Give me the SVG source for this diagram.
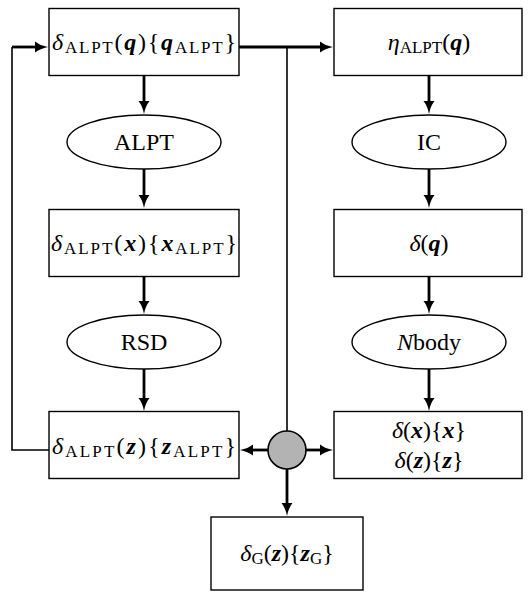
<svg xmlns="http://www.w3.org/2000/svg" width="528" height="592" viewBox="0 0 528 592">
  <style>
    .box { fill: #ffffff; stroke: #000000; stroke-width: 1.4; }
    .thin { fill: none; stroke: #000000; stroke-width: 1.6; }
    .arrow { fill: none; stroke: #000000; stroke-width: 2.8; marker-end: url(#head); }
    .lbl { font-size: 24px; fill: #000000; text-anchor: middle; }
    .it { font-style: italic; }
    .bi { font-style: italic; font-weight: bold; }
    .sub { font-size: 17px; }
  </style>
  <defs>
    <marker id="head" markerUnits="userSpaceOnUse" markerWidth="16" markerHeight="14" viewBox="0 -7 16 14" refX="1" refY="0" orient="auto">
      <path d="M0,-5.5 Q5,-1.5 13,0 Q5,1.5 0,5.5 Z" fill="#000000"/>
    </marker>
  </defs>

  <!-- connectors -->
  <g id="connectors">
    <!-- feedback loop from the redshift-space field back to the initial field -->
    <path class="thin" d="M49,450 H12 V47"/>
    <line class="arrow" x1="12" y1="47" x2="36" y2="47"/>
    <!-- initial field to eta -->
    <line class="arrow" x1="239" y1="47" x2="321" y2="47"/>
    <!-- junction line down to the comparison node -->
    <line class="thin" x1="287" y1="47" x2="287" y2="431"/>
    <!-- left column -->
    <line class="arrow" x1="144" y1="76" x2="144" y2="102"/>
    <line class="arrow" x1="144" y1="169" x2="144" y2="196"/>
    <line class="arrow" x1="144" y1="276" x2="144" y2="302"/>
    <line class="arrow" x1="144" y1="369" x2="144" y2="399"/>
    <!-- right column -->
    <line class="arrow" x1="429" y1="76" x2="429" y2="102"/>
    <line class="arrow" x1="429" y1="169" x2="429" y2="196"/>
    <line class="arrow" x1="429" y1="276" x2="429" y2="302"/>
    <line class="arrow" x1="429" y1="369" x2="429" y2="399"/>
    <!-- outputs of the comparison node -->
    <line class="arrow" x1="268" y1="450" x2="252" y2="450"/>
    <line class="arrow" x1="306" y1="450" x2="321" y2="450"/>
    <line class="arrow" x1="287" y1="469" x2="287" y2="504"/>
  </g>

  <g font-family="Liberation Serif, DejaVu Serif, Times New Roman, serif">
  <g id="delta-alpt-q">
    <rect class="box" x="49" y="8.5" width="190" height="67"/>
    <text class="lbl" x="144" y="50" textLength="184" lengthAdjust="spacing"><tspan class="it">δ</tspan><tspan class="sub" dy="3">ALPT</tspan><tspan dy="-3">(</tspan><tspan class="bi">q</tspan>){<tspan class="bi">q</tspan><tspan class="sub" dy="3">ALPT</tspan><tspan dy="-3">}</tspan></text>
  </g>

  <g id="eta-alpt-q">
    <rect class="box" x="334" y="8.5" width="188" height="67"/>
    <text class="lbl" x="429" y="50"><tspan class="it">η</tspan><tspan class="sub" dy="3">ALPT</tspan><tspan dy="-3">(</tspan><tspan class="bi">q</tspan>)</text>
  </g>

  <g id="alpt">
    <ellipse class="box" cx="144" cy="142" rx="77" ry="27"/>
    <text class="lbl" x="144" y="150">ALPT</text>
  </g>

  <g id="ic">
    <ellipse class="box" cx="429" cy="142" rx="77" ry="27"/>
    <text class="lbl" x="429" y="150">IC</text>
  </g>

  <g id="delta-alpt-x">
    <rect class="box" x="49" y="209.5" width="190" height="67"/>
    <text class="lbl" x="144" y="251" textLength="186" lengthAdjust="spacing"><tspan class="it">δ</tspan><tspan class="sub" dy="3">ALPT</tspan><tspan dy="-3">(</tspan><tspan class="bi">x</tspan>){<tspan class="bi">x</tspan><tspan class="sub" dy="3">ALPT</tspan><tspan dy="-3">}</tspan></text>
  </g>

  <g id="delta-q">
    <rect class="box" x="334" y="209.5" width="188" height="67"/>
    <text class="lbl" x="429" y="251"><tspan class="it">δ</tspan>(<tspan class="bi">q</tspan>)</text>
  </g>

  <g id="rsd">
    <ellipse class="box" cx="144" cy="342" rx="77" ry="27"/>
    <text class="lbl" x="144" y="350">RSD</text>
  </g>

  <g id="nbody">
    <ellipse class="box" cx="429" cy="342" rx="77" ry="27"/>
    <text class="lbl" x="429" y="350"><tspan class="it">N</tspan>body</text>
  </g>

  <g id="delta-alpt-z">
    <rect class="box" x="49" y="411.5" width="190" height="67"/>
    <text class="lbl" x="144" y="454" textLength="184" lengthAdjust="spacing"><tspan class="it">δ</tspan><tspan class="sub" dy="3">ALPT</tspan><tspan dy="-3">(</tspan><tspan class="bi">z</tspan>){<tspan class="bi">z</tspan><tspan class="sub" dy="3">ALPT</tspan><tspan dy="-3">}</tspan></text>
  </g>

  <g id="delta-x-z">
    <rect class="box" x="334" y="411.5" width="188" height="67"/>
    <text class="lbl" x="429" y="438"><tspan class="it">δ</tspan>(<tspan class="bi">x</tspan>){<tspan class="bi">x</tspan>}</text>
    <text class="lbl" x="429" y="468"><tspan class="it">δ</tspan>(<tspan class="bi">z</tspan>){<tspan class="bi">z</tspan>}</text>
  </g>

  <g id="junction">
    <circle cx="287" cy="450" r="19" fill="#b3b3b3" stroke="#000000" stroke-width="1.6"/>
  </g>

  <g id="delta-g-z">
    <rect class="box" x="211" y="517" width="152" height="73"/>
    <text class="lbl" x="287" y="561"><tspan class="it">δ</tspan><tspan class="sub" dy="3">G</tspan><tspan dy="-3">(</tspan><tspan class="bi">z</tspan>){<tspan class="bi">z</tspan><tspan class="sub" dy="3">G</tspan><tspan dy="-3">}</tspan></text>
  </g>
  </g>
</svg>
